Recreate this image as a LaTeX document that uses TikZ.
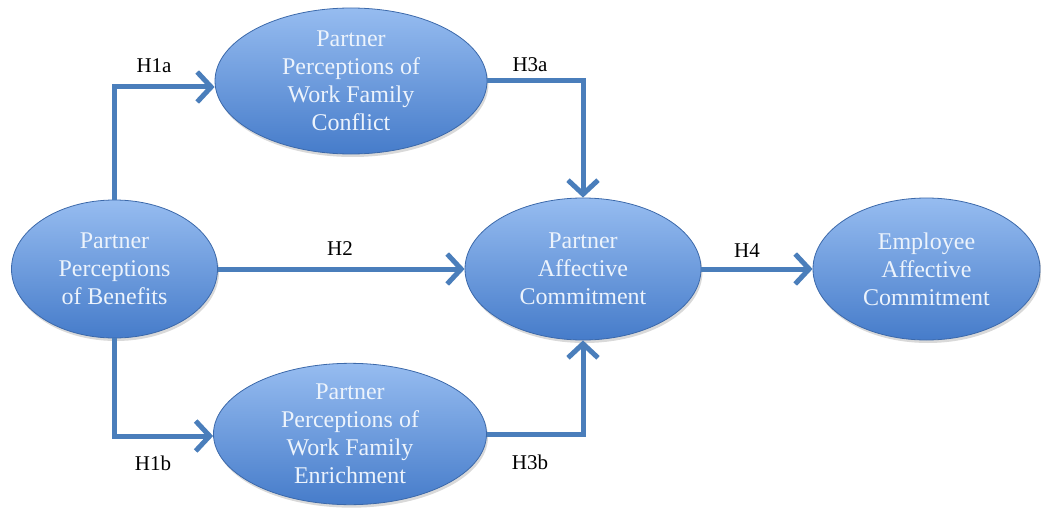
\documentclass[tikz,border=0pt]{standalone}
\usepackage{fontspec}
\setmainfont{Liberation Serif}
\usetikzlibrary{shapes.geometric,arrows.meta,calc,shadows}
\definecolor{topblue}{RGB}{150,188,240}
\definecolor{botblue}{RGB}{70,124,202}
\definecolor{edgeblue}{RGB}{60,105,170}
\definecolor{arrowblue}{RGB}{74,126,187}
\definecolor{txtblue}{RGB}{236,243,252}
\tikzset{
  construct/.style={ellipse, draw=edgeblue, line width=0.8pt, top color=topblue, bottom color=botblue,
    inner sep=0pt, align=center, text=txtblue,
    font=\fontsize{24}{28}\selectfont,
    drop shadow={shadow xshift=1.5pt, shadow yshift=-3pt, opacity=0.3}},
  link/.style={draw=arrowblue, line width=5pt, line join=miter,
    -{Straight Barb[length=14pt,width=30pt,line width=5pt]}},
  hyp/.style={font=\fontsize{21}{23}\selectfont, text=black}
}
\begin{document}
\begin{tikzpicture}[x=1pt,y=-1pt]
\useasboundingbox (0,0) rectangle (1041,508);
\node[construct, minimum width=206pt, minimum height=138pt] (ben) at (114.5,269) {Partner\\Perceptions\\of Benefits};
\node[construct, minimum width=272pt, minimum height=146pt] (conf) at (351,81) {Partner\\Perceptions of\\Work Family\\Conflict};
\node[construct, minimum width=273pt, minimum height=138pt] (enr) at (350,434) {Partner\\Perceptions of\\Work Family\\Enrichment};
\node[construct, minimum width=236pt, minimum height=142pt] (pac) at (583,269) {Partner\\Affective\\Commitment};
\node[construct, minimum width=227pt, minimum height=142pt] (emp) at (926.5,269) {Employee\\Affective\\Commitment};

\coordinate (h1aend) at ($(conf.west)+(0,6)$);
\coordinate (h1bend) at ($(enr.west)+(0,2)$);
\draw[link] (ben.north) |- (h1aend);
\draw[link] (ben.south) |- (h1bend);
\draw[link] (ben.east) -- (pac.west);
\draw[link] (conf.east) -| (pac.north);
\draw[link] (enr.east) -| (pac.south);
\draw[link] (pac.east) -- (emp.west);

\node[hyp] (l1a) at (154,66) {H1a};
\node[hyp] (l1b) at (153,463) {H1b};
\node[hyp] (l2) at (340,249) {H2};
\node[hyp] (l3a) at (530,65) {H3a};
\node[hyp] (l3b) at (530,462) {H3b};
\node[hyp] (l4) at (747,251) {H4};
\end{tikzpicture}
\end{document}
